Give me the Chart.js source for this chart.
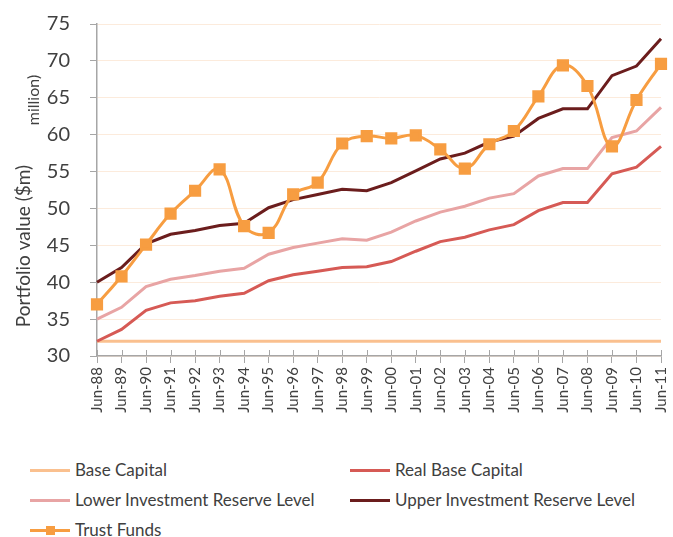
<!DOCTYPE html>
<html>
<head>
<meta charset="utf-8">
<script src="https://cdn.jsdelivr.net/npm/chart.js@4"></script>
<style>
  body { margin: 0; background: #fff; font-family: Lato, "Open Sans", sans-serif; }
  #wrap { position: relative; width: 673px; height: 445px; }
  #legend { position: relative; width: 673px; height: 92px; color: #404040; font-size: 17px; }
  .item { position: absolute; height: 20px; line-height: 20px; white-space: nowrap; }
  .swatch { position: absolute; left: 0; top: 9px; width: 40px; height: 3px; }
  .mark { position: absolute; left: 16px; top: 6px; width: 9px; height: 9px; }
  .label { position: absolute; left: 45px; top: 0; }
</style>
</head>
<body>
<div id="wrap"><canvas id="chart"></canvas></div>
<div id="legend"></div>
<script>
const labels = ["Jun-88","Jun-89","Jun-90","Jun-91","Jun-92","Jun-93","Jun-94","Jun-95","Jun-96","Jun-97","Jun-98","Jun-99",
  "Jun-00","Jun-01","Jun-02","Jun-03","Jun-04","Jun-05","Jun-06","Jun-07","Jun-08","Jun-09","Jun-10","Jun-11"];
const baseCapital = [32,32,32,32,32,32,32,32,32,32,32,32,32,32,32,32,32,32,32,32,32,32,32,32];
const realBaseCapital = [32,33.6,36.2,37.2,37.5,38.1,38.5,40.2,41.0,41.5,42.0,42.1,42.8,44.2,45.5,46.1,47.1,47.8,49.7,50.8,50.8,54.7,55.6,58.4];
const lowerReserve = [35.0,36.6,39.4,40.4,40.9,41.5,41.9,43.8,44.7,45.3,45.9,45.7,46.8,48.3,49.5,50.3,51.4,52.0,54.4,55.4,55.4,59.6,60.5,63.7];
const upperReserve = [40.0,42.0,45.2,46.5,47.0,47.7,48.0,50.1,51.2,51.9,52.6,52.4,53.5,55.1,56.7,57.5,59.0,59.8,62.2,63.5,63.5,68.0,69.3,73.0];
const trustFunds = [37.0,40.8,45.1,49.3,52.4,55.3,47.6,46.7,51.9,53.5,58.8,59.8,59.5,59.9,58.0,55.4,58.7,60.5,65.2,69.4,66.6,58.4,64.7,69.6];
const yTicks = [30,35,40,45,50,55,60,65,70,75];

const series = [
  { label: "Base Capital", data: baseCapital, color: "#fac08f", width: 3 },
  { label: "Real Base Capital", data: realBaseCapital, color: "#d65a55", width: 3 },
  { label: "Lower Investment Reserve Level", data: lowerReserve, color: "#e8a4a4", width: 3 },
  { label: "Upper Investment Reserve Level", data: upperReserve, color: "#6b1d1d", width: 3 },
  { label: "Trust Funds", data: trustFunds, color: "#f79d41", width: 3, marker: true }
];

const datasets = series.map((s, i) => ({
  label: s.label,
  data: s.data,
  borderColor: s.color,
  backgroundColor: s.color,
  borderWidth: s.width,
  pointStyle: "rect",
  pointRadius: s.marker ? 6.5 : 0,
  pointHoverRadius: s.marker ? 6.5 : 0,
  tension: s.marker ? 0.4 : 0,
  order: s.marker ? 0 : series.length - i
}));

// y title + the odd "million)" fragment, plus the small ticks above the x axis
const extras = {
  id: "extras",
  afterDraw(chart) {
    const ctx = chart.ctx;
    const x = chart.scales.x;
    const area = chart.chartArea;
    ctx.save();
    ctx.strokeStyle = "#a6a6a6";
    ctx.lineWidth = 1;
    for (let i = 0; i < labels.length; i++) {
      const px = Math.round(x.getPixelForTick(i)) + 0.5;
      ctx.beginPath();
      ctx.moveTo(px, area.bottom - 6);
      ctx.lineTo(px, area.bottom);
      ctx.stroke();
    }
    ctx.fillStyle = "#404040";
    ctx.textAlign = "center";
    ctx.textBaseline = "middle";
    ctx.translate(24, 246);
    ctx.rotate(-Math.PI / 2);
    ctx.font = "19px Lato";
    ctx.fillText("Portfolio value ($m)", 0, 0);
    ctx.font = "16px Lato";
    ctx.fillText("million)", 146, 10);
    ctx.restore();
  }
};

const ctx = document.getElementById("chart");
const chart = new Chart(ctx, {
  type: "line",
  data: { labels: labels, datasets: datasets },
  options: {
    responsive: true,
    maintainAspectRatio: false,
    animation: false,
    layout: { padding: { top: 24, right: 12, left: 0, bottom: 0 } },
    plugins: { legend: { display: false }, tooltip: { enabled: false } },
    scales: {
      x: {
        offset: false,
        afterFit: (s) => { s.height = 89; s.paddingRight = 0; s.paddingLeft = 0; },
        grid: { drawOnChartArea: false, color: "#a6a6a6", tickLength: 7 },
        border: { color: "#a6a6a6", width: 1.5 },
        ticks: { minRotation: 90, maxRotation: 90, autoSkip: false, color: "#404040", font: { family: "Lato", size: 15 }, padding: 4 }
      },
      y: {
        min: 30,
        max: 75,
        afterFit: (s) => { s.width = 97; s.paddingTop = 0; s.paddingBottom = 0; },
        afterBuildTicks: (s) => { s.ticks = yTicks.map(v => ({ value: v })); },
        grid: { color: "#fcebdc", tickColor: "#a6a6a6", tickLength: 7 },
        border: { color: "#a6a6a6", width: 1.5 },
        ticks: { color: "#404040", font: { family: "Lato", size: 20 }, padding: 20 }
      }
    }
  },
  plugins: [extras]
});

// legend laid out as in the picture: two columns, three rows
const legend = document.getElementById("legend");
const spots = [[30, 15], [350, 15], [30, 45], [350, 45], [30, 75]];
series.forEach((s, i) => {
  const el = document.createElement("div");
  el.className = "item";
  el.style.left = spots[i][0] + "px";
  el.style.top = spots[i][1] + "px";
  el.innerHTML = `<span class="swatch" style="background:${s.color}"></span>` +
    (s.marker ? `<span class="mark" style="background:${s.color}"></span>` : "") +
    `<span class="label">${s.label}</span>`;
  legend.appendChild(el);
});
</script>
</body>
</html>
